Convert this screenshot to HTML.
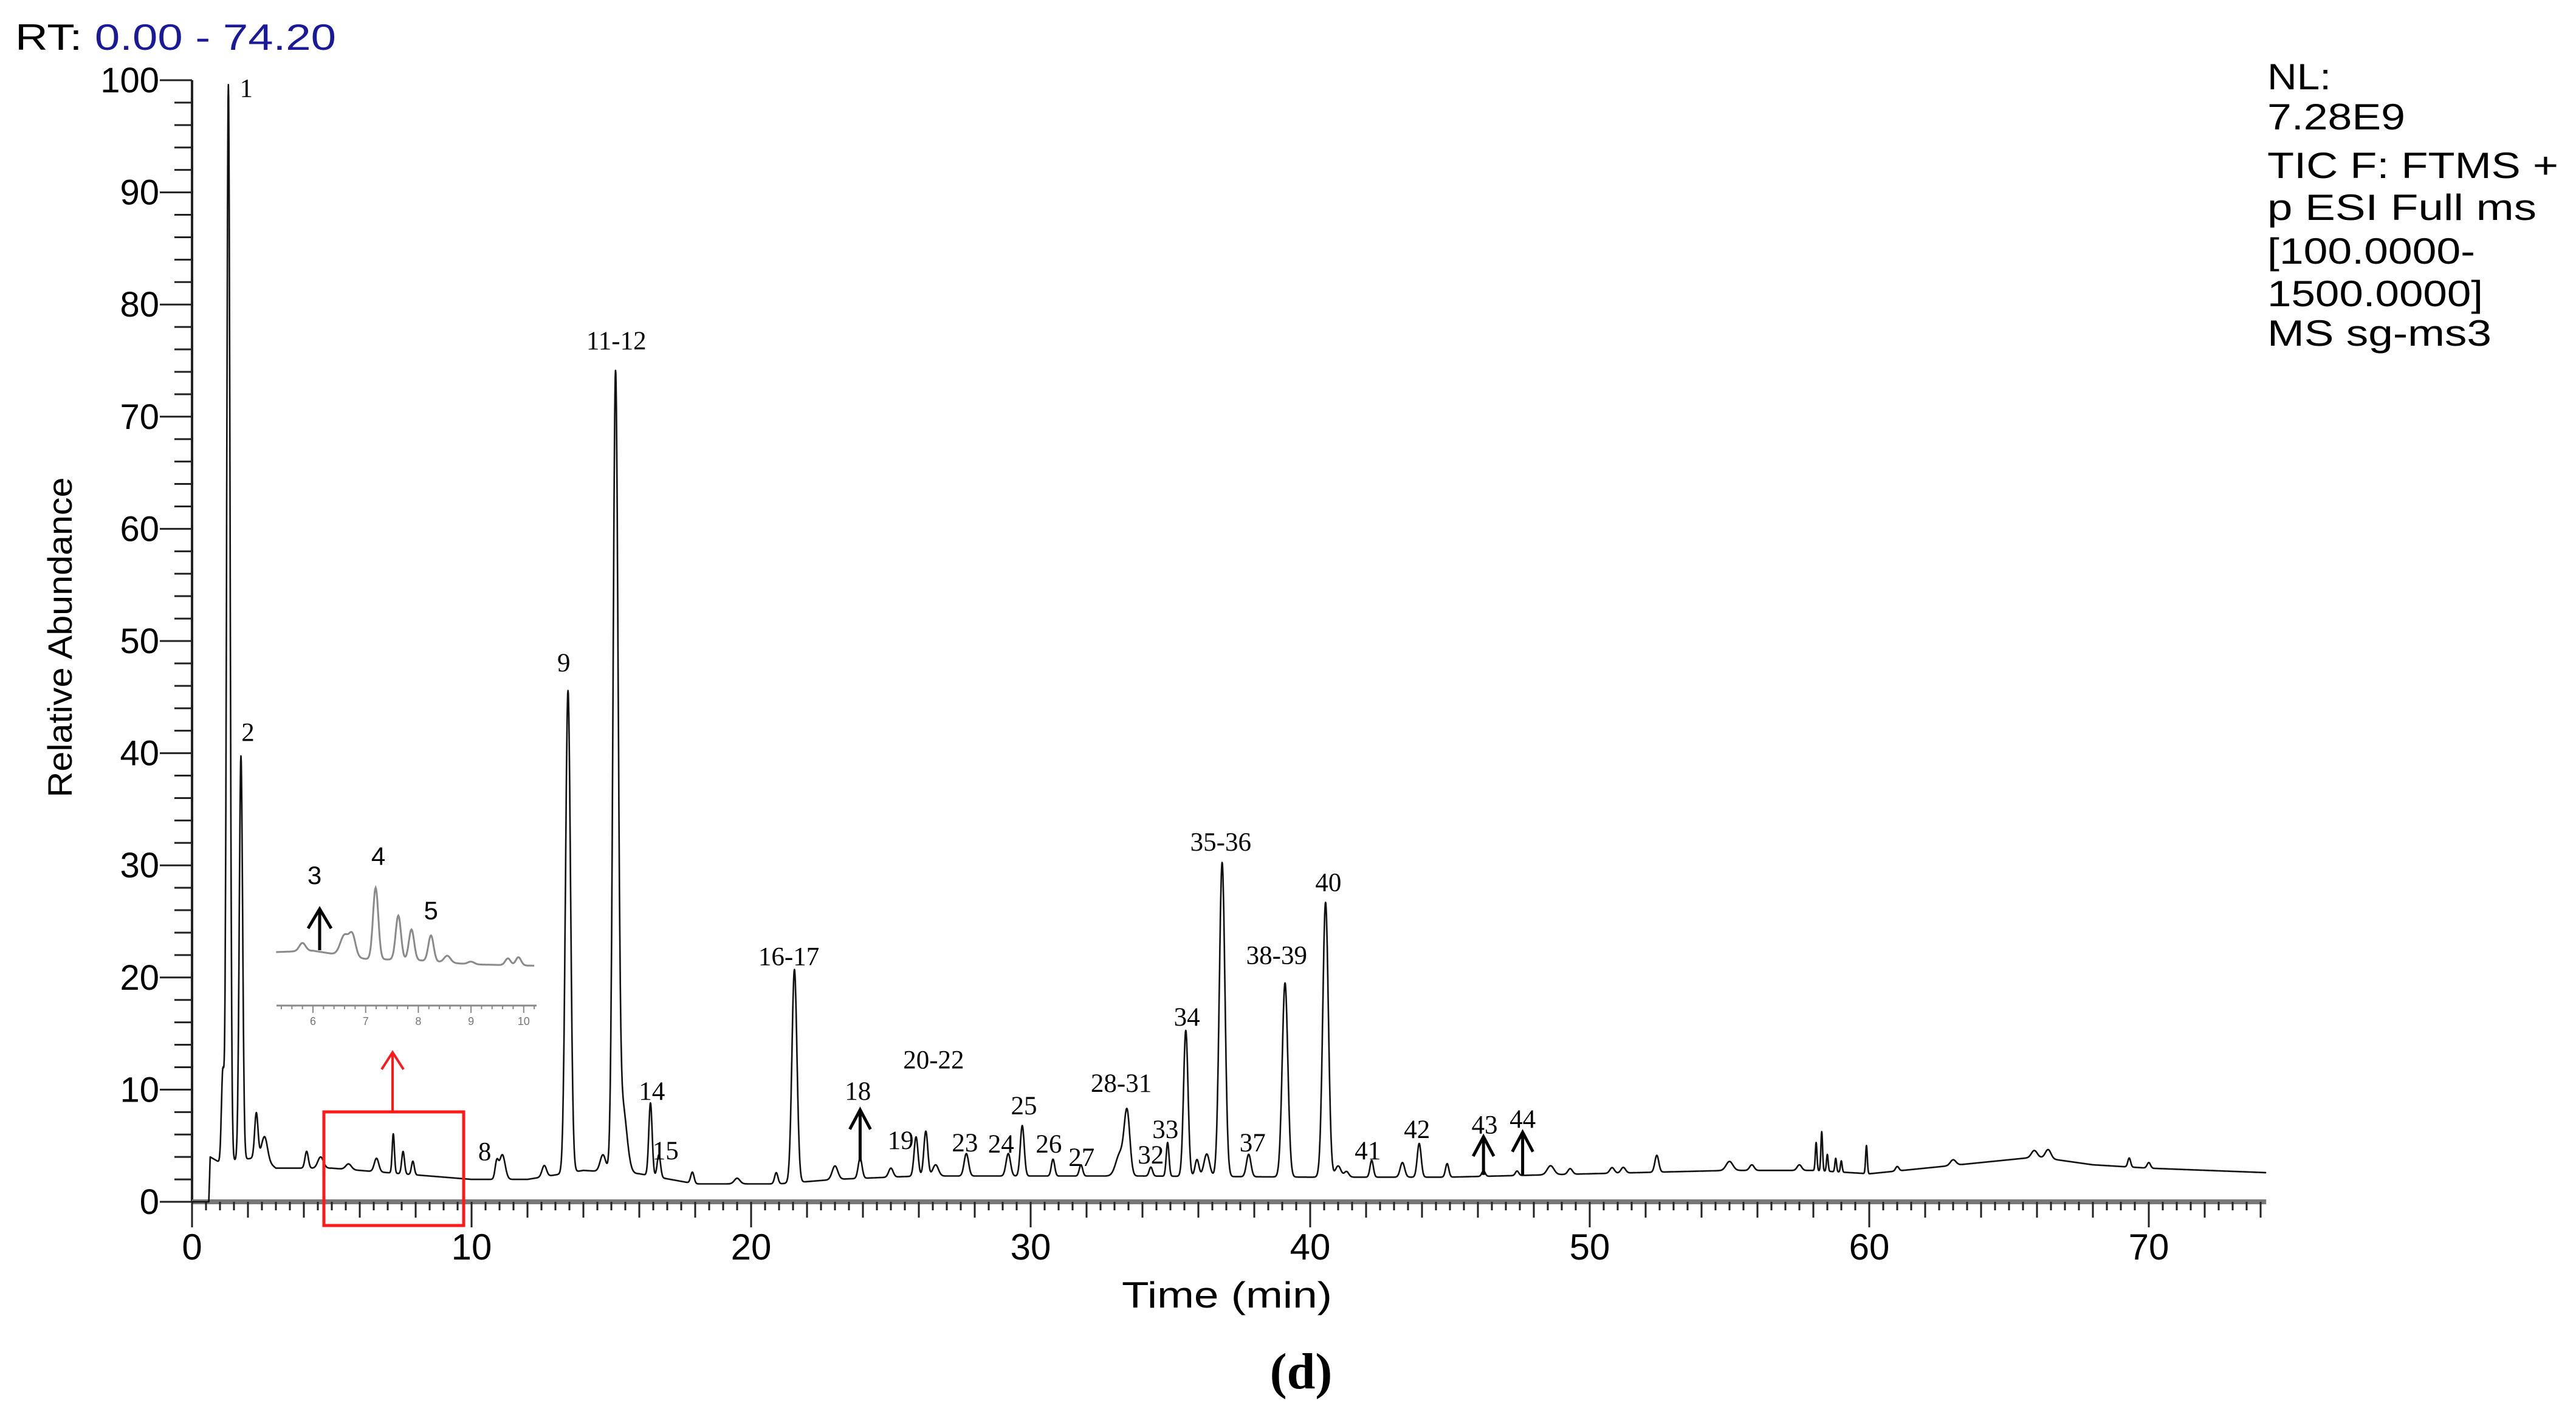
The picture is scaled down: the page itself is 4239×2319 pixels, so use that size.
<!DOCTYPE html>
<html><head><meta charset="utf-8"><style>
html,body{margin:0;padding:0;background:#fff;}
svg{display:block;}
</style></head><body>
<svg id="chart" xmlns="http://www.w3.org/2000/svg" width="4239" height="2319" viewBox="0 0 4239 2319">
<rect x="0" y="0" width="4239" height="2319" fill="#fff"/>
<text x="25" y="82" font-family="Liberation Sans, sans-serif" font-size="60" textLength="528" lengthAdjust="spacingAndGlyphs"><tspan fill="#000">RT: </tspan><tspan fill="#1a1a99">0.00 - 74.20</tspan></text>
<g font-family="Liberation Sans, sans-serif" font-size="60" fill="#000">
<text x="3731" y="147" textLength="105" lengthAdjust="spacingAndGlyphs">NL:</text>
<text x="3731" y="213" textLength="227" lengthAdjust="spacingAndGlyphs">7.28E9</text>
<text x="3731" y="293" textLength="479" lengthAdjust="spacingAndGlyphs">TIC F: FTMS +</text>
<text x="3731" y="362" textLength="443" lengthAdjust="spacingAndGlyphs">p ESI Full ms</text>
<text x="3731" y="434" textLength="342" lengthAdjust="spacingAndGlyphs">[100.0000-</text>
<text x="3731" y="504" textLength="355" lengthAdjust="spacingAndGlyphs">1500.0000]</text>
<text x="3731" y="569" textLength="369" lengthAdjust="spacingAndGlyphs">MS sg-ms3</text>
</g>
<g id="axes"></g>
<g id="trace"></g>
<g id="labels"></g>
<g id="inset"></g>
<text transform="translate(118,1049) rotate(-90)" text-anchor="middle" font-family="Liberation Sans, sans-serif" font-size="56" textLength="527" lengthAdjust="spacingAndGlyphs">Relative Abundance</text>
<text x="2019" y="2152" text-anchor="middle" font-family="Liberation Sans, sans-serif" font-size="60" textLength="346" lengthAdjust="spacingAndGlyphs">Time (min)</text>
<text x="2141" y="2285" text-anchor="middle" font-family="Liberation Serif, serif" font-weight="bold" font-size="84">(d)</text>
</svg>
<script>
// ---- data ----
const baseT = [0.6,0.65,1,2.5,3,5,7,10,12,14,16,18,21,23,26,30,34,40,45,50,55,58,60,62,64,66,68,70,74.2];
const baseV = [0,4,3.5,4,3,3,2.6,2,2,2.8,2.5,1.6,1.6,2,2.3,2.3,2.3,2.2,2.2,2.5,2.8,2.8,2.5,3,3.5,4,3.3,3,2.6];
const peakT = [1.1,1.3,1.75,2.3,2.6,4.1,4.6,5.6,6.6,7.2,7.55,7.9,10.9,11.1,12.6,13.45,14.7,15.15,15.4,16.4,16.7,17.9,19.5,20.9,21.55,23,23.9,25,25.9,26.25,26.6,27.7,29.2,29.7,30.8,31.8,33.2,33.45,34.3,34.9,35.55,35.95,36.3,36.85,37.8,39.1,40.55,41.0,41.3,42.2,43.3,43.9,44.9,46.2,47.4,48.6,49.3,50.8,51.2,52.4,55,55.8,57.5,58.1,58.3,58.5,58.8,59.0,59.9,61,63,65.9,66.4,69.3,70];
const peakH = [8,96,36,4,2,1.5,1,0.5,1.2,3.5,2,1.2,1.5,2.2,1,43,1.5,70,6,6.5,2,1,0.5,1,19,1.2,1.8,0.8,3.5,4,1,2,2,4.5,1.5,1,2,5.5,0.8,3,13,1.5,2,28,2,17.3,24.5,1,0.5,1.5,1.3,3,1.2,0.5,0.4,0.8,0.5,0.5,0.5,1.5,0.8,0.5,0.5,2.5,3.5,1.5,1.2,1,2.5,0.4,0.5,0.6,0.8,0.8,0.5];
const peakW = [0.05,0.06,0.06,0.06,0.1,0.06,0.1,0.1,0.08,0.04,0.05,0.05,0.06,0.1,0.08,0.09,0.1,0.09,0.15,0.06,0.06,0.06,0.1,0.06,0.09,0.1,0.07,0.08,0.07,0.07,0.1,0.08,0.08,0.07,0.06,0.06,0.15,0.1,0.06,0.05,0.08,0.07,0.1,0.1,0.08,0.1,0.1,0.1,0.08,0.06,0.08,0.07,0.06,0.06,0.06,0.12,0.08,0.08,0.08,0.07,0.12,0.08,0.08,0.03,0.03,0.03,0.03,0.03,0.03,0.06,0.1,0.1,0.1,0.05,0.06];
const labelText = ["1","2","8","9","11-12","14","15","16-17","18","19","20-22","23","24","25","26","27","28-31","32","33","34","35-36","37","38-39","40","41","42","43","44"];
const labelT = [1.94,2.0,10.47,13.3,15.18,16.45,16.94,21.35,23.82,25.35,26.53,27.65,28.94,29.76,30.65,31.82,33.24,34.3,34.82,35.59,36.8,37.94,38.8,40.65,42.06,43.82,46.24,47.6];
const labelV = [98.5,41.1,3.7,47.3,76,9.1,3.8,21.1,9.1,4.7,11.9,4.5,4.4,7.8,4.4,3.2,9.8,3.4,5.7,15.7,31.3,4.5,21.2,27.7,3.8,5.7,6.1,6.6];
const arrowT = [23.9,46.2,47.6];
const arrowFrom = [3.6,2.4,2.4];
const arrowTo = [8.2,5.8,6.2];
const yTicks = [0,10,20,30,40,50,60,70,80,90,100];
const xTicks = [0,10,20,30,40,50,60,70];
// inset data
const inBaseT = [5.3,6,7,8,9,10.2];
const inBaseV = [0,0.02,-0.1,-0.12,-0.18,-0.2];
const inPeakT = [5.8,6.6,6.75,7.19,7.62,7.87,8.24,8.55,9.0,9.7,9.9];
const inPeakH = [0.12,0.3,0.3,1.05,0.65,0.45,0.38,0.1,0.04,0.1,0.12];
const inPeakW = [0.06,0.08,0.06,0.05,0.05,0.05,0.05,0.06,0.06,0.05,0.05];
const inTicks = [6,7,8,9,10];
const inLabelText = ["3","4","5"];
const inLabelT = [6.03,7.24,8.24];
const inLabelV = [1.0,1.28,0.48];

// ---- scales ----
const X0=316, PXMIN=46, Y0=1978, PXU=18.46;
const sx = t => X0 + t*PXMIN;
const sy = v => Y0 - v*PXU;
const NS="http://www.w3.org/2000/svg";
function mk(tag, attrs, parent){const e=document.createElementNS(NS,tag);for(const k in attrs)e.setAttribute(k,attrs[k]);parent.appendChild(e);return e;}
function interp(T,V,t){if(t<=T[0])return V[0];for(let i=1;i<T.length;i++){if(t<=T[i]){const f=(t-T[i-1])/(T[i]-T[i-1]);return V[i-1]+f*(V[i]-V[i-1]);}}return V[V.length-1];}
function signal(t,bT,bV,pT,pH,pW){let v=interp(bT,bV,t);for(let i=0;i<pT.length;i++){const d=(t-pT[i])/pW[i];if(Math.abs(d)<6)v+=pH[i]*Math.exp(-0.5*d*d);}return v;}

const axes=document.getElementById('axes');
let yl=mk('line',{x1:X0,y1:sy(100),x2:X0,y2:Y0,stroke:'#222','stroke-width':4},axes);


for(let v=0;v<=100;v+=2){
  const major=(v%10===0);
  const tk=mk('line',{x1:major?263:287,y1:sy(v),x2:X0,y2:sy(v),stroke:'#222','stroke-width':3},axes);
  
  
}
yTicks.forEach(v=>{
  const t=mk('text',{x:262,y:sy(v)+20,'text-anchor':'end','font-family':'Liberation Sans, sans-serif','font-size':58},axes);
  t.textContent=v;
  
  
});
const xl=mk('line',{x1:X0,y1:Y0,x2:sx(74.2),y2:Y0,stroke:'#777','stroke-width':8},axes);


for(let i=0;i<=148;i++){
  const t=i*0.5;
  let len=14; if(i%4===0)len=26; if(i%20===0)len=42;
  const tk=mk('line',{x1:sx(t),y1:Y0,x2:sx(t),y2:Y0+len,stroke:'#222','stroke-width':3},axes);
  
  
}
xTicks.forEach(v=>{
  const t=mk('text',{x:sx(v),y:2073,'text-anchor':'middle','font-family':'Liberation Sans, sans-serif','font-size':60},axes);
  t.textContent=v;
  
  
});

const tr=document.getElementById('trace');
let d='M'+sx(0)+','+sy(0)+' L'+sx(0.6)+','+sy(0);
for(let t=0.62;t<=74.2001;t+=0.01){d+=' L'+sx(t).toFixed(1)+','+sy(signal(t,baseT,baseV,peakT,peakH,peakW)).toFixed(1);}
const p=mk('path',{d:d,fill:'none',stroke:'#111','stroke-width':2.6,'stroke-linejoin':'round'},tr);



const lg=document.getElementById('labels');
labelText.forEach((s,i)=>{
  const t=mk('text',{x:sx(labelT[i]),y:sy(labelV[i]),'text-anchor':'middle','font-family':'Liberation Serif, serif','font-size':43},lg);
  t.textContent=s;
  
  
});
arrowT.forEach((a,i)=>{
  const g=mk('g',{stroke:'#000','stroke-width':5,fill:'none'},lg);
  
  
  const x=sx(a), y1=sy(arrowFrom[i]), y2=sy(arrowTo[i]);
  mk('line',{x1:x,y1:y1,x2:x,y2:y2},g);
  mk('polyline',{points:(x-17)+','+(y2+32)+' '+x+','+y2+' '+(x+17)+','+(y2+32)},g);
});

const ig=document.getElementById('inset');
const IX0=515, IPX=86.7, IY0=1567, IPU=112;
const ix=t=>IX0+(t-6)*IPX, iy=v=>IY0-v*IPU;
let idp='';
for(let t=5.3;t<=10.2;t+=0.01){idp+=(idp?' L':'M')+ix(t).toFixed(1)+','+iy(signal(t,inBaseT,inBaseV,inPeakT,inPeakH,inPeakW)).toFixed(1);}
const ip=mk('path',{d:idp,fill:'none',stroke:'#8a8a8a','stroke-width':3},ig);


const ial=mk('line',{x1:455,y1:1655,x2:883,y2:1655,stroke:'#888','stroke-width':3},ig);


for(let t=5.4;t<=10.21;t+=0.2){
  const maj=Math.abs(t-Math.round(t))<0.01;
  const tk=mk('line',{x1:ix(t),y1:1655,x2:ix(t),y2:1655+(maj?12:6),stroke:'#888','stroke-width':2},ig);
  
  
}
inTicks.forEach(v=>{
  const t=mk('text',{x:ix(v),y:1687,'text-anchor':'middle','font-family':'Liberation Sans, sans-serif','font-size':18,fill:'#777'},ig);
  t.textContent=v;
  
  
});
inLabelText.forEach((s,i)=>{
  const t=mk('text',{x:ix(inLabelT[i]),y:iy(inLabelV[i]),'text-anchor':'middle','font-family':'Liberation Sans, sans-serif','font-size':42},ig);
  t.textContent=s;
  
  
});
const ia=mk('g',{stroke:'#000','stroke-width':5,fill:'none'},ig);


mk('line',{x1:526,y1:1564,x2:526,y2:1496},ia);
mk('polyline',{points:'507,1528 526,1496 545,1528'},ia);
const rb=mk('rect',{x:533,y:1830,width:230,height:187,fill:'none',stroke:'#ff1a1a','stroke-width':5},ig);


const ra=mk('g',{stroke:'#ff1a1a','stroke-width':4,fill:'none'},ig);


mk('line',{x1:646,y1:1830,x2:646,y2:1732},ra);
mk('polyline',{points:'628,1760 646,1732 664,1760'},ra);
</script>
</body></html>
